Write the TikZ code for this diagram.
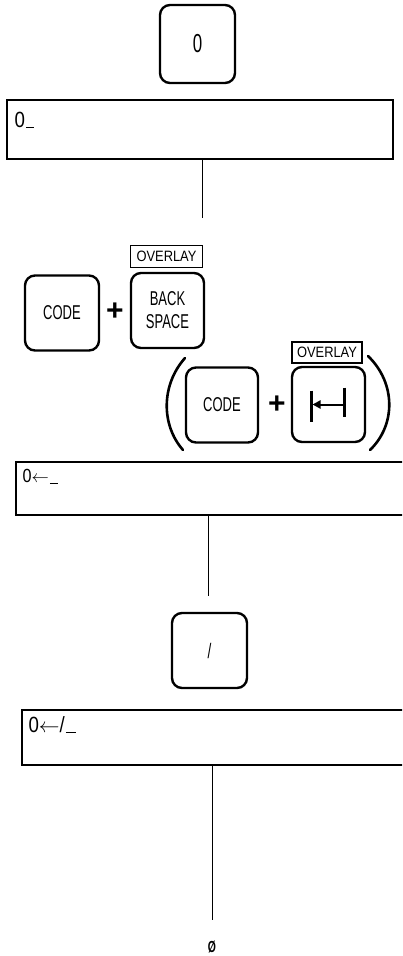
\documentclass[tikz,border=0pt]{standalone}
\usepackage{fontspec}
\setmainfont{Liberation Sans}
\newfontfamily\keyfont[FakeStretch=0.65]{Liberation Sans}
\newfontfamily\ovlfont[FakeStretch=0.86]{Liberation Sans}
\newfontfamily\dispfont[FakeStretch=0.85]{Liberation Sans}
\usetikzlibrary{arrows.meta,calc}

\begin{document}
\begin{tikzpicture}[
      x=1pt, y=-1pt,
      keycap/.style={draw, line width=2.4pt, rounded corners=10pt, inner sep=0pt,
        minimum width=74pt, minimum height=75pt, align=center, font=\keyfont\fontsize{20}{23}\selectfont},
      overlaybox/.style={draw, line width=1.8pt, inner sep=0pt, minimum width=72pt,
        minimum height=22pt, font=\ovlfont\fontsize{15}{15}\selectfont},
      display/.style={draw, line width=1.3pt, inner sep=0pt, minimum width=400pt, minimum height=55pt},
      readout/.style={anchor=base west, inner sep=0pt, font=\dispfont\fontsize{22}{22}\selectfont},
      plussign/.style={inner sep=0pt, font=\bfseries\fontsize{30}{30}\selectfont},
      wire/.style={draw, line width=0.9pt},
      paren/.style={draw, line width=2.6pt, line cap=round}
    ]
      \useasboundingbox (0,0) rectangle (402,956);
      \clip (0,0) rectangle (402,956);

      % step 1: key 0
      \node[keycap, minimum width=75pt, minimum height=78pt, font=\keyfont\fontsize{26}{26}\selectfont] (k0) at (197.5,44) {0};
      \node[display, minimum width=386pt, minimum height=59pt] (d1) at (200,129.5) {};
      \node[readout] (t1) at ($(d1.north west)+(8,28)$) {0\kern1.5pt\rule[-1pt]{8pt}{1.3pt}};
      \coordinate (e1) at (202,218);
      \draw[wire] (d1.south -| e1) -- (e1);

      % step 2: CODE + BACK SPACE  (or CODE + tab)
      \node[keycap] (code1) at (62,313) {CODE};
      \node[plussign] (plus1) at (115,312) {+};
      \node[keycap, minimum width=73pt] (bksp) at (167.5,310.5) {BACK\\SPACE};
      \node[overlaybox] (ovl1) at (166.5,256.5) {OVERLAY};

      \node[keycap, minimum width=72pt] (code2) at (222,405) {CODE};
      \node[plussign] (plus2) at (277,405) {+};
      \node[keycap, minimum width=73pt] (tab) at (328.5,404.5) {};
      \node[overlaybox, minimum width=70pt, minimum height=21pt] (ovl2) at (327,352.5) {OVERLAY};
      \draw[line width=2.4pt] ($(tab.center)+(-17,-14)$) -- ($(tab.center)+(-17,17)$);
      \draw[line width=2.4pt] ($(tab.center)+(16,-17)$) -- ($(tab.center)+(16,12)$);
      \draw[line width=2pt, -{Triangle[length=8pt,width=8pt]}] ($(tab.center)+(16,0)$) -- ($(tab.center)+(-16,0)$);
      \draw[paren] (185,358) .. controls (161,385) and (161,425) .. (183,450);
      \draw[paren] (368,356) .. controls (396,383) and (396,425) .. (370,450);

      \node[display, minimum height=53pt] (d2) at (216,488.5) {};
      \node[readout, font=\dispfont\fontsize{19}{19}\selectfont] (t2) at ($(d2.north west)+(7,21)$) {0$\leftarrow$\kern1pt\rule[-2pt]{8pt}{1.3pt}};
      \coordinate (e2) at (208,596);
      \draw[wire] (d2.south -| e2) -- (e2);

      % step 3: key /
      \node[keycap, minimum width=75pt, font=\keyfont\fontsize{21}{21}\selectfont] (kslash) at (209.5,650.5) {/};
      \node[display] (d3) at (222,737.5) {};
      \node[readout] (t3) at ($(d3.north west)+(7,23)$) {0$\leftarrow$/\kern1pt\rule[-0.5pt]{10pt}{1.3pt}};
      \coordinate (e3) at (212,920);
      \draw[wire] (d3.south -| e3) -- (e3);

      \node[inner sep=0pt, font=\keyfont\bfseries\fontsize{16}{16}\selectfont] (res) at (212,947) {Ø};
    \end{tikzpicture}
\end{document}
